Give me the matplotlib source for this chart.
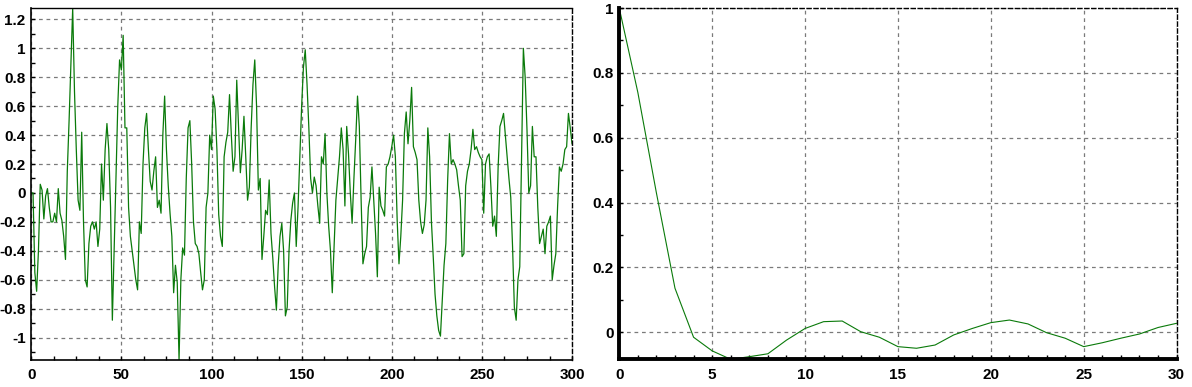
import matplotlib
matplotlib.use("Agg")
import matplotlib.pyplot as plt
from matplotlib.ticker import MultipleLocator, FuncFormatter

# ---- data: time series (index 0..300) ----
series_x = list(range(301))
series_y = [
    0.0, 0.0, -0.55, -0.68, -0.4, 0.06, 0.02, -0.18, -0.02, 0.03,
    -0.1, -0.2, -0.2, -0.14, -0.2, 0.03, -0.14, -0.19, -0.3, -0.46,
    0.15, 0.5, 0.9, 1.277, 0.7, 0.3, -0.05, -0.12, 0.42, -0.2,
    -0.6, -0.65, -0.35, -0.23, -0.2, -0.25, -0.2, -0.37, -0.25, 0.2,
    -0.05, 0.3, 0.48, 0.3, -0.1, -0.88, -0.4, 0.1, 0.6, 0.92,
    0.85, 1.09, 0.45, 0.45, -0.1, -0.3, -0.4, -0.5, -0.6, -0.67,
    -0.2, -0.28, 0.2, 0.45, 0.55, 0.3, 0.08, 0.02, 0.15, 0.25,
    -0.1, -0.05, -0.14, 0.4, 0.67, 0.3, 0.05, -0.14, -0.3, -0.69,
    -0.5, -0.62, -1.155, -0.6, -0.38, -0.43, 0.1, 0.45, 0.5, 0.2,
    -0.2, -0.35, -0.37, -0.42, -0.55, -0.67, -0.6, -0.1, 0.0, 0.4,
    0.3, 0.67, 0.58, 0.3, -0.15, -0.3, -0.37, 0.25, 0.35, 0.42,
    0.68, 0.4, 0.15, 0.25, 0.78, 0.45, 0.14, 0.3, 0.53, 0.25,
    -0.05, 0.04, 0.45, 0.75, 0.92, 0.6, 0.02, 0.1, -0.46, -0.3,
    -0.12, -0.15, 0.09, -0.28, -0.45, -0.65, -0.81, -0.5, -0.3, -0.21,
    -0.4, -0.85, -0.79, -0.4, -0.19, -0.07, 0.0, -0.37, -0.1, 0.25,
    0.6, 0.87, 0.99, 0.75, 0.45, 0.1, 0.0, 0.11, 0.05, -0.09,
    -0.21, 0.25, 0.2, 0.41, 0.0, -0.23, -0.4, -0.69, -0.37, -0.05,
    0.1, 0.25, 0.45, 0.3, -0.09, 0.46, 0.27, 0.0, -0.21, 0.1,
    0.37, 0.67, 0.46, -0.05, -0.49, -0.42, -0.37, -0.1, -0.03, 0.18,
    -0.05, -0.28, -0.58, 0.04, -0.09, -0.12, -0.16, 0.18, 0.2, 0.25,
    0.32, 0.4, 0.25, -0.19, -0.49, -0.3, -0.05, 0.41, 0.56, 0.34,
    0.5, 0.73, 0.32, 0.28, 0.23, -0.05, -0.2, -0.28, -0.22, -0.05,
    0.45, 0.25, -0.2, -0.44, -0.7, -0.85, -0.95, -0.99, -0.74, -0.5,
    -0.35, 0.09, 0.41, 0.2, 0.23, 0.2, 0.16, 0.05, -0.05, -0.44,
    -0.42, 0.05, 0.15, 0.2, 0.3, 0.44, 0.3, 0.32, 0.28, 0.25,
    0.23, -0.14, 0.2, 0.25, 0.27, 0.04, -0.23, -0.16, -0.3, 0.18,
    0.46, 0.5, 0.55, 0.4, 0.25, 0.1, -0.03, -0.37, -0.79, -0.88,
    -0.6, -0.51, 0.25, 1.0, 0.8, 0.44, 0.0, 0.05, 0.46, 0.25,
    0.25, -0.1, -0.35, -0.3, -0.25, -0.42, -0.23, -0.2, -0.16, -0.6,
    -0.5, -0.42, -0.09, 0.18, 0.15, 0.2, 0.3, 0.32, 0.55, 0.45,
    0.34,
]

# ---- data: autocorrelation (lags 0..30) ----
acf_lags = list(range(31))
acf_vals = [
    1.0, 0.74, 0.43, 0.136, -0.015, -0.057, -0.083, -0.075, -0.066, -0.024,
    0.012, 0.033, 0.035, 0.002, -0.015, -0.044, -0.049, -0.039, -0.008, 0.012,
    0.03, 0.038, 0.026, -0.001, -0.018, -0.044, -0.032, -0.018, -0.005, 0.015,
    0.028,
]

left_xticks = [0, 50, 100, 150, 200, 250, 300]
left_yticks = [-1, -0.8, -0.6, -0.4, -0.2, 0, 0.2, 0.4, 0.6, 0.8, 1, 1.2]
right_xticks = [0, 5, 10, 15, 20, 25, 30]
right_yticks = [0, 0.2, 0.4, 0.6, 0.8, 1]

LINE = "#0a7a0a"
GRID = "#7a7a7a"

fig = plt.figure(figsize=(11.92, 3.87), dpi=100)
fmt = FuncFormatter(lambda v, p: "%g" % round(v, 6))
font = {"family": "Liberation Sans", "weight": "bold", "size": 11}


def style(ax, thick):
    ax.grid(True, color=GRID, linestyle=(0, (3, 3)), linewidth=0.9)
    ax.set_axisbelow(True)
    ax.tick_params(which="both", direction="in", length=3, width=1,
                   color="black", top=False, right=False)
    ax.tick_params(which="major", pad=4)
    ax.tick_params(axis="x", which="major", pad=6)
    ax.xaxis.set_major_formatter(fmt)
    ax.yaxis.set_major_formatter(fmt)
    for lab in ax.get_xticklabels() + ax.get_yticklabels():
        lab.set_fontfamily(font["family"])
        lab.set_fontweight("bold")
        lab.set_fontsize(font["size"])
    ax.spines["left"].set_linewidth(thick)
    ax.spines["bottom"].set_linewidth(thick)
    ax.spines["right"].set_linestyle((0, (3, 2)))
    ax.spines["right"].set_linewidth(1)


# Left: time series
ax1 = fig.add_axes([0.0262, 0.0698, 0.4537, 0.9088])
ax1.plot(series_x, series_y, color=LINE, linewidth=0.9)
ax1.set_xlim(0, 300)
ax1.set_ylim(min(series_y), max(series_y))
ax1.set_xticks(left_xticks)
ax1.set_yticks(left_yticks)
ax1.xaxis.set_minor_locator(MultipleLocator(12.5))
ax1.yaxis.set_minor_locator(MultipleLocator(0.1))
style(ax1, 1.2)
ax1.spines["top"].set_linewidth(1)

# Right: autocorrelation
ax2 = fig.add_axes([0.5195, 0.0716, 0.4676, 0.9077])
ax2.plot(acf_lags, acf_vals, color=LINE, linewidth=0.8)
ax2.set_xlim(0, 30)
ax2.set_ylim(min(acf_vals), 1.0)
ax2.set_xticks(right_xticks)
ax2.set_yticks(right_yticks)
ax2.xaxis.set_minor_locator(MultipleLocator(1))
ax2.yaxis.set_minor_locator(MultipleLocator(0.1))
style(ax2, 2.8)
ax2.spines["top"].set_linestyle((0, (3, 2)))
ax2.spines["top"].set_linewidth(1)

fig.savefig("out.png", dpi=100)
